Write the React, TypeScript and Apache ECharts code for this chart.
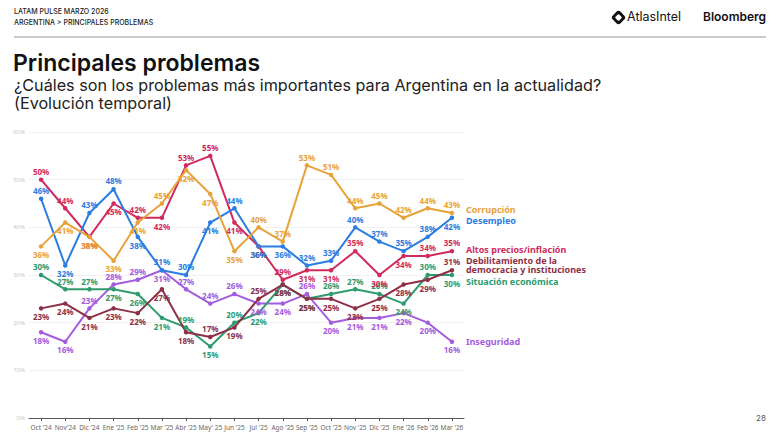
import React, { useEffect, useRef } from "react";
import * as echarts from "echarts";

const categories = ["Oct '24", "Nov'24", "Dic '24", "Ene '25", "Feb '25", "Mar '25", "Abr '25", "May' 25", "Jun '25", "Jul '25", "Ago '25", "Sep '25", "Oct '25", "Nov '25", "Dic '25", "Ene '26", "Feb '26", "Mar '26"];
const yTicks = [0, 10, 20, 30, 40, 50, 60];

const corrupcion = [36, 41, 38, 33, 41, 45, 52, 47, 35, 40, 37, 53, 51, 44, 45, 42, 44, 43];
const desempleo = [46, 32, 43, 48, 38, 31, 30, 41, 44, 36, 36, 32, 33, 40, 37, 35, 38, 42];
const altosPrecios = [50, 44, 38, 45, 42, 42, 53, 55, 41, 36, 29, 31, 31, 35, 30, 34, 34, 35];
const debilitamiento = [23, 24, 21, 23, 22, 27, 18, 17, 19, 25, 28, 25, 25, 23, 25, 28, 29, 31];
const situacion = [30, 27, 27, 27, 26, 21, 19, 15, 20, 22, 28, 25, 26, 27, 26, 24, 30, 30];
const inseguridad = [18, 16, 23, 28, 29, 31, 27, 24, 26, 24, 24, 26, 20, 21, 21, 22, 20, 16];

// label placement (t = above, b = below)
const posCorr = "bbbbbtbbbttttttttt";
const posDes = "tbttbttbtbbttttttb";
const posAlt = "ttbbtbttbbtbbtbbtt";
const posDeb = "bbbbbbbtbtbbbbbbbt";
const posSit = "tttbbbtbtbbbtttbtb";
const posIns = "bbtttbtttbbtbbbbbb";

const FONT = "'Noto Sans', 'Open Sans', sans-serif";

function mkSeries(name: string, values: number[], pos: string, color: string, endOffset: number) {
  return {
    name,
    type: "line",
    data: values.map((v, i) => ({
      value: v,
      label: { position: pos[i] === "t" ? "top" : "bottom" },
    })),
    symbol: "circle",
    symbolSize: 4.5,
    lineStyle: { color, width: 2 },
    itemStyle: { color },
    label: {
      show: true,
      formatter: "{c}%",
      color,
      fontSize: 8,
      fontWeight: "bold",
      fontFamily: FONT,
      distance: 2,
    },
    endLabel: {
      show: true,
      formatter: name,
      color,
      fontSize: 9,
      fontWeight: "bold",
      fontFamily: FONT,
      lineHeight: 9,
      distance: 14,
      offset: [0, endOffset],
    },
  };
}

export default function App() {
  const ref = useRef<HTMLDivElement>(null);
  useEffect(() => {
    document.body.style.margin = "0";
    if (!ref.current) return;
    const chart = echarts.init(ref.current, null, { renderer: "svg" });
    const option: any = {
      animation: false,
      backgroundColor: "#ffffff",
      grid: { left: 29, width: 435, top: 132, height: 286 },
      xAxis: {
        type: "category",
        data: categories,
        boundaryGap: true,
        axisLine: { lineStyle: { color: "#555", width: 1 } },
        axisTick: { show: true, alignWithLabel: true, length: 3, lineStyle: { color: "#555" } },
        axisLabel: { color: "#666", fontSize: 6.5, fontFamily: FONT, margin: 6, interval: 0 },
      },
      yAxis: {
        type: "value",
        min: yTicks[0],
        max: yTicks[yTicks.length - 1],
        interval: 10,
        axisLabel: { formatter: "{value}%", color: "#c8c8c8", fontSize: 6, fontFamily: FONT, margin: 4 },
        axisLine: { show: false },
        axisTick: { show: false },
        splitLine: { lineStyle: { color: "#f1f1f1", width: 1 } },
      },
      series: [
        mkSeries("Inseguridad", inseguridad, posIns, "#A55BE0", 0),
        mkSeries("Situación económica", situacion, posSit, "#2E9B6F", 6),
        mkSeries("Debilitamiento de la\ndemocracia y instituciones", debilitamiento, posDeb, "#8E2F47", -5),
        mkSeries("Altos precios/inflación", altosPrecios, posAlt, "#D12A5C", -2),
        mkSeries("Desempleo", desempleo, posDes, "#2A7DE1", 3),
        mkSeries("Corrupción", corrupcion, posCorr, "#E8A23A", -4),
      ],
      graphic: [
        { type: "text", left: 14, top: 8, style: { text: "LATAM PULSE MARZO 2026", fill: "#222", font: "500 7px Inter, sans-serif" } },
        { type: "text", left: 14, top: 19, style: { text: "ARGENTINA > PRINCIPALES PROBLEMAS", fill: "#222", font: "500 7px Inter, sans-serif" } },
        { type: "line", shape: { x1: 14, y1: 37, x2: 766, y2: 37 }, style: { stroke: "#999", lineWidth: 1 } },
        { type: "rect", x: 618.5, y: 17.5, shape: { x: -5.5, y: -5.5, width: 11, height: 11, r: 3 }, rotation: Math.PI / 4, style: { fill: "#111" } },
        { type: "rect", x: 618.5, y: 17.5, shape: { x: -2.6, y: -2.6, width: 5.2, height: 5.2, r: 1 }, rotation: Math.PI / 4, style: { fill: "#fff" } },
        { type: "text", left: 627, top: 10, style: { text: "AtlasIntel", fill: "#111", font: "400 12.5px Inter, sans-serif" } },
        { type: "text", left: 703, top: 10, style: { text: "Bloomberg", fill: "#111", font: "600 12px Inter, sans-serif" } },
        { type: "text", left: 13, top: 51, style: { text: "Principales problemas", fill: "#111", font: "600 23px Inter, sans-serif" } },
        { type: "text", left: 14, top: 77, style: { text: "¿Cuáles son los problemas más importantes para Argentina en la actualidad?", fill: "#222", font: "400 16.2px Inter, sans-serif" } },
        { type: "text", left: 14, top: 95, style: { text: "(Evolución temporal)", fill: "#222", font: "400 16.2px Inter, sans-serif" } },
        { type: "text", left: 756, top: 414, style: { text: "28", fill: "#555", font: "400 8px Inter, sans-serif" } },
      ],
    };
    chart.setOption(option);
    return () => chart.dispose();
  }, []);
  return <div ref={ref} style={{ width: 780, height: 438 }} />;
}
